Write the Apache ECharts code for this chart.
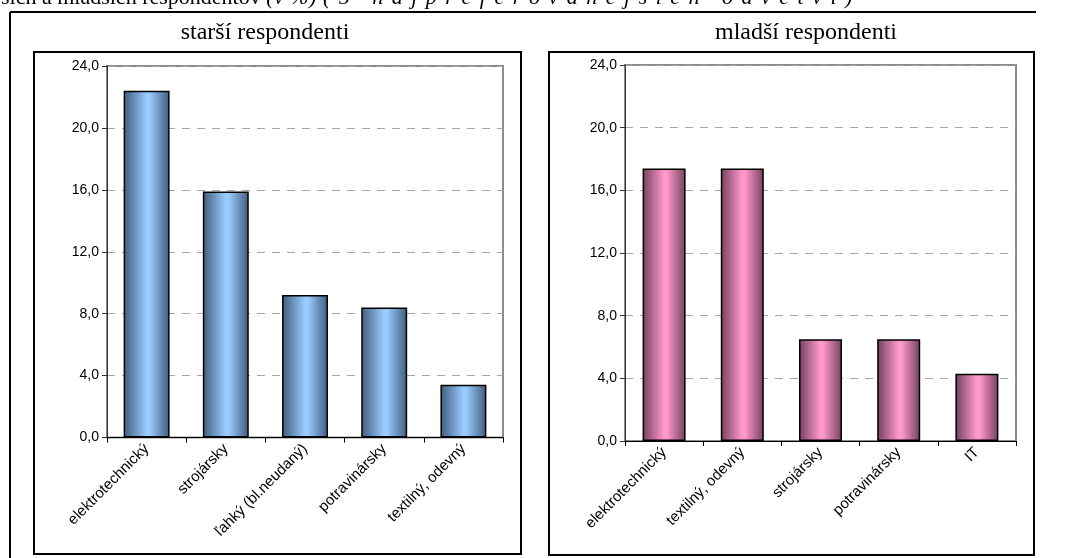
<!DOCTYPE html>
<html><head><meta charset="utf-8">
<script src="https://cdn.jsdelivr.net/npm/echarts/dist/echarts.min.js"></script>
<style>
html,body{margin:0;padding:0;background:#fff;overflow:hidden}
#wrap{position:relative;width:1082px;height:558px}
#c{position:absolute;left:0;top:0;width:1082px;height:558px}
#hdr{position:absolute;left:1px;top:-14px;font:22px/22px 'Liberation Serif','Times New Roman',serif;color:#000;white-space:nowrap;z-index:2}
#hdr i{letter-spacing:0.5px}
#hdr i.sp{letter-spacing:8.5px}
</style>
</head><body><div id="wrap"><div id="c"></div><div id="hdr"></div></div>
<script>
// ---- data ----
const categoriesOlder = ['elektrotechnický', 'strojársky', 'ľahký (bl.neudaný)', 'potravinársky', 'textilný, odevný'];
const valuesOlder = [22.4, 15.9, 9.2, 8.4, 3.4];
const categoriesYounger = ['elektrotechnický', 'textilný, odevný', 'strojársky', 'potravinársky', 'IT'];
const valuesYounger = [17.4, 17.4, 6.5, 6.5, 4.3];
const yMin = 0, yMax = 24, yStep = 4;
const titleOlder = 'starší respondenti';
const titleYounger = 'mladší respondenti';
const headerPlain = 'ších a mladších respondentov ';
const headerUnit = '(v %) ';
const headerItalic = '(5 najpreferovanejších odvetví)';

// header (cut off at the top of the page, as in the source)
const hdr = document.getElementById('hdr');
hdr.appendChild(document.createTextNode(headerPlain));
const u = document.createElement('i'); u.textContent = headerUnit; hdr.appendChild(u);
const it = document.createElement('i'); it.className = 'sp'; it.textContent = headerItalic; hdr.appendChild(it);

const chart = echarts.init(document.getElementById('c'), null, {renderer: 'canvas'});
const sans = 'Liberation Sans, Arial, sans-serif';
const serif = 'Liberation Serif, Times New Roman, serif';

function fmt(v) { return v.toFixed(1).replace('.', ','); }
function grad(edge, mid) {
  return new echarts.graphic.LinearGradient(0, 0, 1, 0, [
    {offset: 0, color: edge}, {offset: 0.5, color: mid}, {offset: 0.56, color: mid}, {offset: 1, color: edge}
  ]);
}
function xAx(idx, data) {
  return {
    type: 'category', gridIndex: idx, data: data,
    axisLine: {show: true, lineStyle: {color: '#000', width: 1}},
    axisTick: {show: true, length: 5, lineStyle: {color: '#000'}},
    axisLabel: {rotate: 45, interval: 0, fontSize: 15, color: '#000', fontFamily: sans, margin: 9},
    splitLine: {show: false}
  };
}
function yAx(idx) {
  return {
    type: 'value', gridIndex: idx, min: yMin, max: yMax, interval: yStep,
    axisLine: {show: true, lineStyle: {color: '#333', width: 1}},
    axisTick: {show: true, length: 5, lineStyle: {color: '#333'}},
    axisLabel: {formatter: fmt, fontSize: 14, color: '#000', fontFamily: sans, margin: 8},
    splitLine: {show: true, lineStyle: {color: '#a6a6a6', width: 1, type: [8, 7]}}
  };
}

chart.setOption({
  animation: false,
  backgroundColor: '#fff',
  grid: [
    {left: 107, top: 66, width: 396, height: 371.5, show: true, borderColor: '#8c8c8c', borderWidth: 2, backgroundColor: '#fff', containLabel: false, outerBoundsMode: 'none'},
    {left: 625, top: 65, width: 391, height: 376, show: true, borderColor: '#8c8c8c', borderWidth: 2, backgroundColor: '#fff', containLabel: false, outerBoundsMode: 'none'}
  ],
  xAxis: [xAx(0, categoriesOlder), xAx(1, categoriesYounger)],
  yAxis: [yAx(0), yAx(1)],
  series: [
    {type: 'bar', xAxisIndex: 0, yAxisIndex: 0, data: valuesOlder, barWidth: '58%',
     itemStyle: {color: grad('#425b7c', '#99ccff'), borderColor: '#000', borderWidth: 1.5}},
    {type: 'bar', xAxisIndex: 1, yAxisIndex: 1, data: valuesYounger, barWidth: '55%',
     itemStyle: {color: grad('#74405e', '#ff99cc'), borderColor: '#000', borderWidth: 1.5}}
  ],
  graphic: [
    {type: 'rect', shape: {x: 34, y: 52, width: 487, height: 502}, style: {fill: 'none', stroke: '#000', lineWidth: 2}, z: -1},
    {type: 'rect', shape: {x: 549, y: 52, width: 485, height: 503}, style: {fill: 'none', stroke: '#000', lineWidth: 2}, z: -1},
    {type: 'line', shape: {x1: 10, y1: 12, x2: 1036, y2: 12}, style: {stroke: '#000', lineWidth: 2}},
    {type: 'line', shape: {x1: 10, y1: 12, x2: 10, y2: 560}, style: {stroke: '#000', lineWidth: 2}},
    {type: 'text', x: 265, y: 33, style: {text: titleOlder, font: '24px ' + serif, fill: '#000', textAlign: 'center', textVerticalAlign: 'middle'}},
    {type: 'text', x: 806, y: 33, style: {text: titleYounger, font: '24px ' + serif, fill: '#000', textAlign: 'center', textVerticalAlign: 'middle'}}
  ]
});
</script>
</body></html>
